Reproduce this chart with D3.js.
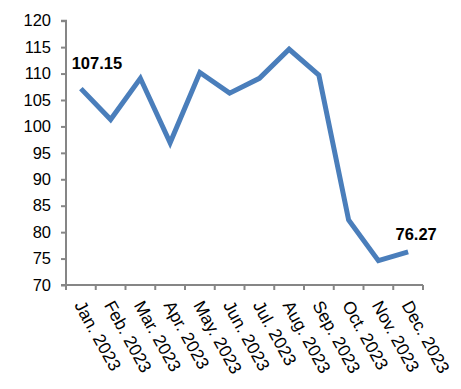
<!DOCTYPE html>
<html><head><meta charset="utf-8">
<script src="https://cdn.jsdelivr.net/npm/d3@7"></script>
<style>body{margin:0;background:#fff}svg{display:block;font-family:Arial,"Liberation Sans",sans-serif}</style>
</head><body>
<script>
const months = ["Jan. 2023","Feb. 2023","Mar. 2023","Apr. 2023","May. 2023","Jun. 2023","Jul. 2023","Aug. 2023","Sep. 2023","Oct. 2023","Nov. 2023","Dec. 2023"];
const values = [107.15,101.3,109.1,96.9,110.2,106.3,109.1,114.6,109.7,82.3,74.6,76.27];
const yTicks = [70,75,80,85,90,95,100,105,110,115,120];
const labelled = [0, 11];

const W = 461, H = 389;
const m = {top: 20.7, right: 38, bottom: 104, left: 66};
const svg = d3.select("body").append("svg").attr("width", W).attr("height", H);

const x = d3.scaleBand().domain(months).range([m.left, W - m.right]).padding(0);
const y = d3.scaleLinear().domain([70,120]).range([H - m.bottom, m.top]);
const cx = d => x(d) + x.bandwidth()/2;
const axisColor = "#868686";

// Y axis
const ya = svg.append("g").attr("transform", `translate(${m.left},0)`)
  .call(d3.axisLeft(y).tickValues(yTicks).tickSize(5).tickPadding(10).tickFormat(d3.format("d")));
ya.select(".domain").attr("stroke", axisColor).attr("stroke-width", 2).attr("d", `M-5,${y(70)}H0V${y(120)}H-5`);
ya.selectAll(".tick line").attr("stroke", axisColor).attr("stroke-width", 2);
ya.selectAll(".tick text").attr("font-size", 16.5).attr("fill", "#000").attr("font-family", "Arial, 'Liberation Sans', sans-serif");

// X axis
const xa = svg.append("g").attr("transform", `translate(0,${y(70)})`)
  .call(d3.axisBottom(x).tickSize(0).tickPadding(0));
xa.select(".domain").attr("stroke", axisColor).attr("stroke-width", 2).attr("d", `M${m.left},0H${W - m.right}`);
xa.selectAll(".tick text")
  .attr("font-size", 17.5).attr("fill", "#000").attr("font-family", "Arial, 'Liberation Sans', sans-serif")
  .attr("text-anchor", "start").attr("x", 0).attr("y", 0).attr("dy", 0)
  .attr("transform", "translate(-7,20) rotate(61)");
// boundary ticks
const edges = d3.range(months.length + 1).map(i => m.left + i * x.step());
xa.selectAll(".edge").data(edges).join("line").attr("class","edge")
  .attr("x1", d => d).attr("x2", d => d).attr("y1", 0).attr("y2", 5)
  .attr("stroke", axisColor).attr("stroke-width", 2);

// Line
const line = d3.line().x((d,i) => cx(months[i])).y(d => y(d));
svg.append("path").datum(values).attr("d", line)
  .attr("fill", "none").attr("stroke", "#4A7EBB").attr("stroke-width", 5).attr("stroke-linejoin", "miter");

// Data labels
const offsets = {0: [16, -20], 11: [8, -12]};
svg.selectAll(".dl").data(labelled).join("text").attr("class","dl")
  .attr("x", i => cx(months[i]) + offsets[i][0])
  .attr("y", i => y(values[i]) + offsets[i][1])
  .attr("text-anchor", "middle").attr("font-size", 16.5).attr("font-weight", "bold").attr("fill", "#000")
  .text(i => values[i].toFixed(2));
</script>
</body></html>
